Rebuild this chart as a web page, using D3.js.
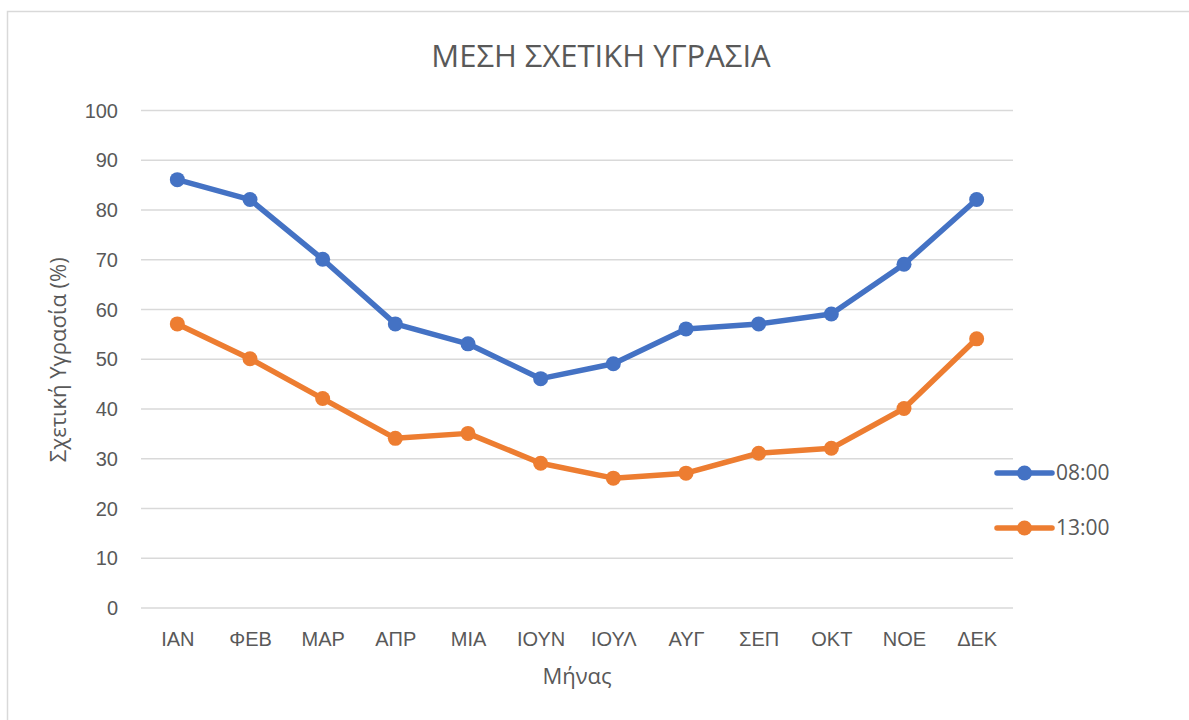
<!DOCTYPE html>
<html>
<head>
<meta charset="utf-8">
<script src="https://cdn.jsdelivr.net/npm/d3@7"></script>
<style>
  html, body { margin: 0; padding: 0; background: #fff; }
  svg { display: block; font-family: "Open Sans", "Noto Sans", sans-serif; }
</style>
</head>
<body>
<svg id="chart" width="1189" height="720"></svg>
<script>
// Monthly mean relative humidity at two observation hours
const months = ["ΙΑΝ", "ΦΕΒ", "ΜΑΡ", "ΑΠΡ", "ΜΙΑ", "ΙΟΥΝ", "ΙΟΥΛ", "ΑΥΓ", "ΣΕΠ", "ΟΚΤ", "ΝΟΕ", "ΔΕΚ"];
const morning = [86, 82, 70, 57, 53, 46, 49, 56, 57, 59, 69, 82];   // 08:00
const midday  = [57, 50, 42, 34, 35, 29, 26, 27, 31, 32, 40, 54];   // 13:00
const seriesNames = ["08:00", "13:00"];
const yTicks = [0, 10, 20, 30, 40, 50, 60, 70, 80, 90, 100];

const series = [
  { name: seriesNames[0], values: morning, color: "#4472C4" },
  { name: seriesNames[1], values: midday,  color: "#ED7D31" }
];

const svg = d3.select("#chart");
const textColor = "#595959";

// outer chart frame
svg.append("rect")
  .attr("x", 7.5).attr("y", 11.5)
  .attr("width", 1200).attr("height", 760)
  .attr("fill", "none").attr("stroke", "#d9d9d9").attr("stroke-width", 1.5);

const plot = { left: 141, right: 1013, top: 110, bottom: 607.5 };

const x = d3.scalePoint().domain(months).range([plot.left, plot.right]).padding(0.5);
const y = d3.scaleLinear().domain([0, 100]).range([plot.bottom, plot.top]);

// horizontal gridlines + value labels
const yAxis = d3.axisLeft(y).tickValues(yTicks)
  .tickSize(-(plot.right - plot.left)).tickPadding(23).tickFormat(d3.format("d"));
const gy = svg.append("g").attr("transform", `translate(${plot.left},0)`).call(yAxis);
gy.select(".domain").remove();
gy.selectAll(".tick line").attr("stroke", "#d9d9d9").attr("stroke-width", 1.5);
gy.selectAll(".tick text").attr("fill", textColor).style("font-size", "20px").attr("dy", "0.35em");

// month labels
const xAxis = d3.axisBottom(x).tickSize(0).tickPadding(24);
const gx = svg.append("g").attr("transform", `translate(0,${plot.bottom})`).call(xAxis);
gx.select(".domain").remove();
gx.selectAll(".tick text").attr("fill", textColor).style("font-size", "20px");

// series lines and markers
const line = d3.line().x((d, i) => x(months[i])).y(d => y(d));
series.forEach(s => {
  svg.append("path").datum(s.values)
    .attr("d", line).attr("fill", "none")
    .attr("stroke", s.color).attr("stroke-width", 5.5)
    .attr("stroke-linejoin", "round").attr("stroke-linecap", "round");
  svg.append("g").selectAll("circle").data(s.values).join("circle")
    .attr("cx", (d, i) => x(months[i])).attr("cy", d => y(d))
    .attr("r", 7.5).attr("fill", s.color);
});

// title
svg.append("text")
  .attr("x", 601).attr("y", 67).attr("text-anchor", "middle")
  .attr("fill", textColor).style("font-size", "31px")
  .text("ΜΕΣΗ ΣΧΕΤΙΚΗ ΥΓΡΑΣΙΑ");

// axis titles
svg.append("text")
  .attr("x", 577).attr("y", 684).attr("text-anchor", "middle")
  .attr("fill", textColor).style("font-size", "22px")
  .text("Μήνας");
svg.append("text")
  .attr("transform", `translate(66,${(plot.top + plot.bottom) / 2 + 1}) rotate(-90)`)
  .attr("text-anchor", "middle")
  .attr("fill", textColor).style("font-size", "22px")
  .text("Σχετική Υγρασία (%)");

// legend
const legendY = [473, 528];
series.forEach((s, i) => {
  const g = svg.append("g").attr("transform", `translate(997,${legendY[i]})`);
  g.append("line").attr("x1", 0).attr("x2", 55).attr("y1", 0).attr("y2", 0)
    .attr("stroke", s.color).attr("stroke-width", 5.5).attr("stroke-linecap", "round");
  g.append("circle").attr("cx", 27.5).attr("cy", 0).attr("r", 7.5).attr("fill", s.color);
  g.append("text").attr("x", 59).attr("y", 0).attr("dy", "0.35em")
    .attr("fill", textColor).style("font-size", "21px").text(s.name);
});
</script>
</body>
</html>
